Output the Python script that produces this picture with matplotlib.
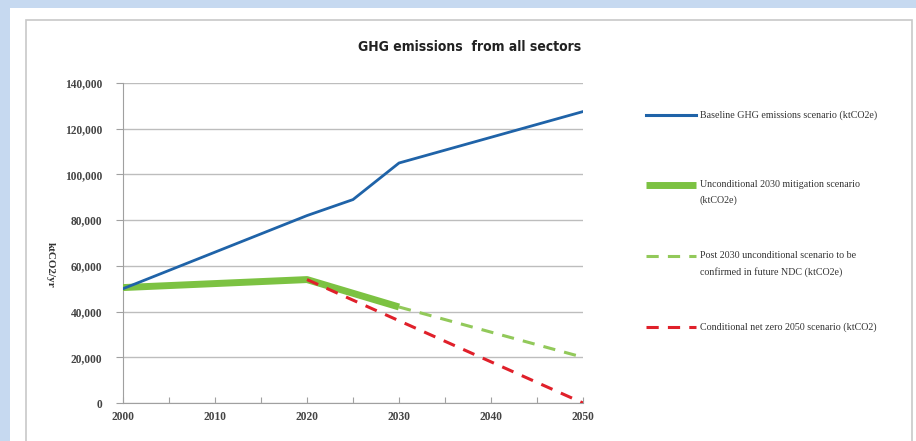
import matplotlib
matplotlib.use("Agg")
import matplotlib.pyplot as plt
from matplotlib.patches import Rectangle
from matplotlib.lines import Line2D
from matplotlib.ticker import FuncFormatter, MultipleLocator

# ---- data ----
baseline_years = [2000, 2020, 2025, 2030, 2050]
baseline_vals = [50000, 82000, 89000, 105000, 127500]

uncond_years = [2000, 2020, 2030]
uncond_vals = [50500, 54000, 42000]

post2030_years = [2030, 2050]
post2030_vals = [42000, 20000]

netzero_years = [2020, 2050]
netzero_vals = [54000, 0]

labels = [
    "Baseline GHG emissions scenario (ktCO2e)",
    "Unconditional 2030 mitigation scenario\n(ktCO2e)",
    "Post 2030 unconditional scenario to be\nconfirmed in future NDC (ktCO2e)",
    "Conditional net zero 2050 scenario (ktCO2)",
]
x_ticklabels = [2000, 2010, 2020, 2030, 2040, 2050]
title = "GHG emissions  from all sectors"
ylabel = "ktCO2/yr"

# ---- styles ----
BLUE = "#1f63a8"
GREEN = "#7cc242"
LGREEN = "#92c95a"
RED = "#e0202a"
SERIF = ["Liberation Serif", "DejaVu Serif"]

fig = plt.figure(figsize=(9.16, 4.41), dpi=100)
fig.patch.set_facecolor("#c6d9f0")
W, H = 916, 441
# white panel
fig.add_artist(Rectangle((10 / W, 0), 1 - 10 / W, 1 - 8 / H, transform=fig.transFigure,
                         facecolor="white", edgecolor="none", zorder=0))
# inner chart border
fig.add_artist(Rectangle((26 / W, -0.01), (912 - 26) / W, 1 - 20 / H + 0.01, transform=fig.transFigure,
                         facecolor="none", edgecolor="#c8c8c8", lw=1.2, zorder=1))

ax = fig.add_axes([123 / W, (441 - 403) / H, (583 - 123) / W, (403 - 83) / H])
ax.set_facecolor("none")

ax.plot(baseline_years, baseline_vals, color=BLUE, lw=2.0, zorder=5)
ax.plot(uncond_years, uncond_vals, color=GREEN, lw=5.0, solid_capstyle="butt", zorder=4)
ax.plot(post2030_years, post2030_vals, color=LGREEN, lw=2.2, dashes=(4, 3), zorder=3)
ax.plot(netzero_years, netzero_vals, color=RED, lw=2.2, dashes=(4, 3), zorder=6)

ax.set_xlim(2000, 2050)
ax.set_ylim(0, 140000)
ax.set_xticks(range(2000, 2051, 5))
ax.set_xticklabels([str(y) if y in x_ticklabels else "" for y in range(2000, 2051, 5)])
ax.yaxis.set_major_locator(MultipleLocator(20000))
ax.yaxis.set_major_formatter(FuncFormatter(lambda v, p: f"{int(v):,}"))
ax.grid(axis="y", color="#bdbdbd", lw=1.0)
ax.set_axisbelow(True)
for s in ["top", "right"]:
    ax.spines[s].set_visible(False)
ax.spines["left"].set_color("#a0a0a0")
ax.spines["bottom"].set_color("#a0a0a0")
ax.tick_params(axis="y", direction="out", length=5, color="#a0a0a0", labelsize=8.3, pad=10, labelcolor="#444444")
ax.tick_params(axis="x", direction="in", length=4, color="#a0a0a0", labelsize=8.3, pad=6, labelcolor="#444444")
for t in ax.get_xticklabels() + ax.get_yticklabels():
    t.set_family(SERIF)
    t.set_fontweight("bold")

fig.text(50 / W, 1 - 265 / H, ylabel, rotation=270, ha="center", va="center",
         fontsize=8, fontweight="bold", family=SERIF, color="#333333")
fig.text(470 / W, 1 - 47 / H, title, ha="center", va="center", fontsize=10,
         fontweight="bold", fontstretch="condensed", family=["DejaVu Sans"], color="#222222")

# legend
leg = fig.add_axes([0, 0, 1, 1])
leg.set_xlim(0, W)
leg.set_ylim(H, 0)
leg.axis("off")
styles = [
    dict(color=BLUE, lw=2.2),
    dict(color=GREEN, lw=5.0, solid_capstyle="butt"),
    dict(color=LGREEN, lw=2.2, dashes=(4, 3)),
    dict(color=RED, lw=2.2, dashes=(4, 3)),
]
ys = [115, 185, 256, 327]
for lab, st, yy in zip(labels, styles, ys):
    leg.add_line(Line2D([646, 696], [yy, yy], **st))
    leg.text(700, yy - 5, lab, ha="left", va="top", fontsize=7.2, family=SERIF,
             color="#333333", linespacing=1.9)

fig.savefig("out.png", dpi=100, facecolor=fig.get_facecolor())
